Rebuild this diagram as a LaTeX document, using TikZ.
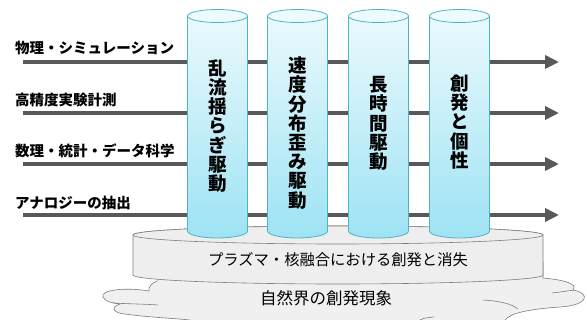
\documentclass[tikz,border=0pt]{standalone}
\usepackage{fontspec}
\newfontfamily\jp{Noto Sans CJK JP}
\usetikzlibrary{arrows.meta}
\definecolor{arrowgray}{RGB}{89,89,89}
\definecolor{cylborder}{RGB}{80,178,198}
\definecolor{cyltop}{RGB}{234,249,253}
\definecolor{cylbot}{RGB}{158,227,244}
\definecolor{cyllid}{RGB}{238,251,254}
\definecolor{diskfill}{RGB}{238,238,238}
\definecolor{cloudfill}{RGB}{240,240,240}
\definecolor{edgegray}{RGB}{125,125,125}
\tikzset{
  bigarrow/.style={draw=arrowgray, line width=4.5pt, -{Triangle[length=14pt,width=13pt]}},
  lefttext/.style={font=\jp\bfseries\fontsize{14.5}{14.5}\selectfont, anchor=west, inner sep=0pt},
  cyltext/.style={font=\jp\bfseries\fontsize{18.5}{19.2}\selectfont, align=center, inner sep=0pt},
  cylline/.style={draw=cylborder, line width=0.8pt},
  diskstyle/.style={fill=diskfill, draw=edgegray, line width=0.6pt},
  cloudstyle/.style={fill=cloudfill, draw=edgegray, line width=0.6pt},
  cloudline/.style={draw=edgegray, line width=0.6pt},
}
\begin{document}
\begin{tikzpicture}[x=1pt,y=-1pt]
\useasboundingbox (0,0) rectangle (587,320);
\clip (0,0) rectangle (587,320);
\fill[white] (0,0) rectangle (587,320);

% cloud
\path[cloudstyle] (160,262) -- (157,281)
  .. controls (152,283) and (148,287) .. (149,291)
  .. controls (125,287) and (100,290) .. (103,297)
  .. controls (105,302) and (113,303) .. (120,304)
  .. controls (110,307) and (113,313) .. (125,314)
  .. controls (145,317) and (170,318) .. (190,320)
  -- (190,330) -- (505,330) -- (505,320)
  .. controls (510,313) and (530,309) .. (560,307)
  .. controls (590,305) and (590,293) .. (573,290)
  .. controls (578,284) and (565,280) .. (543,278)
  -- (543,262) -- cycle;
\draw[cloudline] (113,303) .. controls (130,304) and (145,304) .. (158,305);
\draw[cloudline] (552,293) .. controls (560,292) and (568,291) .. (574,290);
\draw[cloudline] (483,300) .. controls (500,301) and (512,304) .. (518,309);
\draw[cloudline] (418,321) .. controls (424,318) .. (434,317);

% disk
\path[diskstyle] (133,235) -- (133,275)
  arc[start angle=180, end angle=360, x radius=205pt, y radius=9pt]
  -- (543,235)
  arc[start angle=0, end angle=180, x radius=205pt, y radius=9pt] -- cycle;
\draw[diskstyle] (338,235) ellipse[x radius=205pt, y radius=9pt];
\node[font=\jp\fontsize{15.3}{15.3}\selectfont, inner sep=0pt] (disktext) at (338,260) {プラズマ・核融合における創発と消失};
\node[font=\jp\fontsize{16.5}{16.5}\selectfont, inner sep=0pt] (cloudtext) at (326,298) {自然界の創発現象};

% arrows
\coordinate (s1) at (23,62);  \coordinate (e1) at (559,62);
\coordinate (s2) at (23,113); \coordinate (e2) at (559,113);
\coordinate (s3) at (23,164); \coordinate (e3) at (559,164);
\coordinate (s4) at (23,215); \coordinate (e4) at (559,215);
\draw[bigarrow] (s1) -- (e1);
\draw[bigarrow] (s2) -- (e2);
\draw[bigarrow] (s3) -- (e3);
\draw[bigarrow] (s4) -- (e4);

\node[lefttext] (l1) at (15,47.5) {物理・シミュレーション};
\node[lefttext] (l2) at (15,100.5) {高精度実験計測};
\node[lefttext] (l3) at (15,151) {数理・統計・データ科学};
\node[lefttext] (l4) at (15,202.5) {アナロジーの抽出};

% cylinders
\foreach \cx in {217.5,297.5,378.5,459.5}{
  \shade[top color=cyltop, bottom color=cylbot] (\cx-30,16) -- (\cx-30,231)
    arc[start angle=180, end angle=360, x radius=30pt, y radius=7pt]
    -- (\cx+30,16) -- cycle;
  \draw[cylline] (\cx-30,16) -- (\cx-30,231)
    arc[start angle=180, end angle=360, x radius=30pt, y radius=7pt]
    -- (\cx+30,16);
  \draw[cylline, fill=cyllid] (\cx,16) ellipse[x radius=30pt, y radius=6.5pt];
}
\node[cyltext] (t1) at (217.5,126) {乱\\流\\揺\\ら\\ぎ\\駆\\動};
\node[cyltext] (t2) at (297.5,133) {速\\度\\分\\布\\歪\\み\\駆\\動};
\node[cyltext] (t3) at (378.5,123.5) {長\\時\\間\\駆\\動};
\node[cyltext] (t4) at (459.5,122) {創\\発\\と\\個\\性};
\end{tikzpicture}
\end{document}
